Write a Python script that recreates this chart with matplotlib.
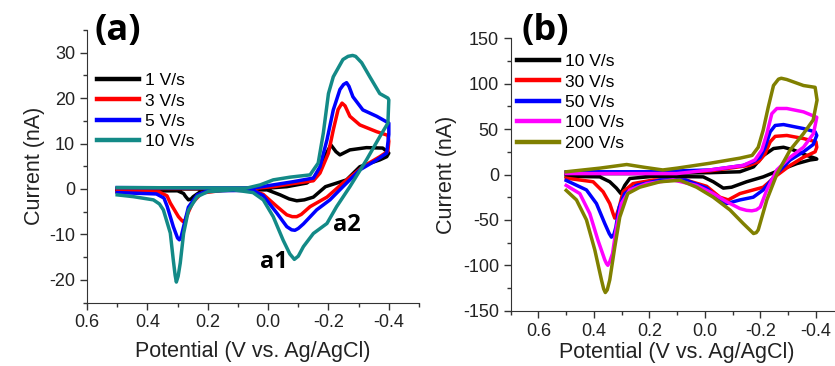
import matplotlib
matplotlib.use("Agg")
import matplotlib.pyplot as plt
from matplotlib.ticker import MultipleLocator

plt.rcParams['font.family'] = ['Liberation Sans', 'DejaVu Sans']

#### Panel (a) data: potential (V) and current (nA), one closed loop per scan rate ####
a_labels = ['1 V/s', '3 V/s', '5 V/s', '10 V/s']
a_colors = ['#000000', '#ff0000', '#0000ff', '#138a87']

a1_v = [0.5, 0.3, 0.28, 0.274, 0.264, 0.255, 0.248, 0.22, 0.05, 0.003, -0.04, -0.07, -0.095,
        -0.12, -0.15, -0.19, -0.26, -0.304, -0.37, -0.393, -0.4, -0.38, -0.326, -0.271,
        -0.238, -0.225, -0.208, -0.194, -0.178, -0.155, -0.128, -0.062, 0.0, 0.2, 0.5]
a1_i = [-0.5, -0.4, -1.0, -1.6, -2.4, -2.2, -1.7, -0.4, -0.2, -0.2, -1.3, -2.2, -2.6,
        -2.4, -1.8, 0.5, 2.0, 4.9, 6.4, 7.1, 7.9, 9.0, 9.1, 8.6,
        7.5, 8.2, 9.7, 7.9, 4.9, 2.6, 1.3, 0.5, 0.2, 0.0, 0.0]

a3_v = [0.5, 0.36, 0.335, 0.324, 0.297, 0.285, 0.281, 0.275, 0.27, 0.25, 0.22, 0.15, 0.05,
        0.016, -0.03, -0.062, -0.08, -0.095, -0.11, -0.139, -0.195, -0.248, -0.314, -0.37,
        -0.397, -0.4, -0.397, -0.36, -0.304, -0.271, -0.255, -0.245, -0.232, -0.216, -0.2,
        -0.172, -0.15, -0.083, -0.017, 0.05, 0.5]
a3_i = [-0.6, -0.7, -1.5, -3.1, -6.1, -7.0, -7.2, -6.9, -6.0, -3.0, -0.9, -0.3, -0.3,
        -1.2, -3.9, -5.7, -6.1, -6.1, -5.6, -3.9, -1.8, 1.3, 4.9, 7.1,
        8.3, 10.5, 11.8, 12.6, 14.1, 16.0, 18.3, 18.9, 17.5, 13.0, 7.9,
        3.5, 1.8, 1.2, 0.5, 0.1, 0.1]

a5_v = [0.5, 0.37, 0.345, 0.334, 0.314, 0.3, 0.294, 0.288, 0.28, 0.264, 0.235, 0.2, 0.05,
        0.016, -0.03, -0.062, -0.078, -0.089, -0.1, -0.117, -0.161, -0.205, -0.248, -0.304,
        -0.36, -0.393, -0.4, -0.4, -0.36, -0.314, -0.281, -0.268, -0.26, -0.25, -0.238,
        -0.216, -0.195, -0.172, -0.15, -0.083, -0.017, 0.05, 0.5]
a5_i = [-0.8, -1.1, -2.0, -3.9, -8.3, -10.8, -11.2, -10.5, -8.3, -4.0, -1.3, -0.4, -0.3,
        -1.5, -5.4, -8.3, -9.0, -9.1, -8.7, -7.7, -4.6, -2.4, 0.5, 4.2,
        6.4, 7.9, 12.0, 14.5, 16.0, 17.4, 20.3, 22.6, 23.4, 23.0, 21.9,
        17.4, 10.8, 4.9, 2.4, 1.6, 0.9, 0.2, 0.3]

a10_v = [0.5, 0.446, 0.38, 0.36, 0.347, 0.324, 0.314, 0.308, 0.304, 0.298, 0.291, 0.28, 0.264,
         0.235, 0.2, 0.115, 0.05, 0.016, -0.017, -0.05, -0.072, -0.087, -0.1, -0.117, -0.15,
         -0.195, -0.227, -0.271, -0.326, -0.37, -0.397, -0.4, -0.397, -0.37, -0.337, -0.31,
         -0.29, -0.28, -0.265, -0.248, -0.216, -0.2, -0.183, -0.166, -0.139, -0.073, -0.017,
         0.026, 0.07, 0.5]
a10_i = [-1.3, -1.7, -2.4, -3.3, -4.6, -9.7, -15.7, -19.0, -20.5, -19.2, -16.3, -9.8, -4.7,
         -1.7, -0.6, -0.2, -0.8, -2.4, -6.1, -11.3, -14.3, -15.5, -14.8, -12.7, -9.8,
         -7.6, -3.9, 0.5, 6.4, 11.5, 14.5, 19.6, 20.0, 21.0, 24.7, 27.8,
         29.2, 29.4, 29.2, 28.5, 24.7, 21.0, 12.3, 5.7, 3.1, 2.6, 2.0,
         0.9, 0.2, 0.3]

#### Panel (b) data ####
b_labels = ['10 V/s', '30 V/s', '50 V/s', '100 V/s', '200 V/s']
b_colors = ['#000000', '#ff0000', '#0000ff', '#ff00ff', '#808000']

b10_v = [0.5, 0.379, 0.343, 0.319, 0.303, 0.289, 0.271, 0.185, 0.006, -0.03, -0.066, -0.096,
         -0.15, -0.21, -0.271, -0.331, -0.379, -0.403, -0.4, -0.367, -0.319, -0.283, -0.247,
         -0.211, -0.175, -0.126, -0.018, 0.2, 0.5]
b10_i = [-2, -2.6, -8, -15, -21, -12, -4.4, -2, -2.6, -8, -15, -14,
         -8, -2.6, 5, 12, 16, 17, 17.6, 21, 27, 30, 28.6,
         21, 8.4, 3, 2, 1, 1]

b30_v = [0.5, 0.403, 0.367, 0.343, 0.33, 0.325, 0.318, 0.309, 0.295, 0.259, 0.185, 0.07,
         -0.006, -0.054, -0.084, -0.126, -0.174, -0.21, -0.259, -0.307, -0.355, -0.397,
         -0.403, -0.4, -0.355, -0.295, -0.253, -0.235, -0.217, -0.193, -0.16, -0.018, 0.2, 0.5]
b30_i = [-4, -8, -19, -32, -44, -48, -44, -36, -19, -10, -6, -6,
         -13, -25, -28, -21, -17, -14, -1, 10, 19, 25,
         30, 36, 39.6, 43, 42, 36, 23, 14, 10, 4, 2, 2]

b50_v = [0.5, 0.427, 0.391, 0.361, 0.345, 0.337, 0.328, 0.321, 0.309, 0.289, 0.247, 0.16,
         0.07, -0.006, -0.054, -0.078, -0.126, -0.174, -0.21, -0.259, -0.307, -0.355, -0.39,
         -0.403, -0.397, -0.355, -0.283, -0.253, -0.235, -0.217, -0.199, -0.174, -0.138,
         -0.018, 0.2, 0.5]
b50_i = [-6.5, -17, -32, -54, -65, -69, -66, -58, -36, -21, -12, -6,
         -6, -15, -28, -32, -28, -25, -17, 1, 16, 25, 33,
         43, 47, 50.6, 55, 54, 47, 30, 19, 14, 10,
         5, 3, 3]

b100_v = [0.5, 0.451, 0.415, 0.386, 0.361, 0.355, 0.35, 0.343, 0.333, 0.319, 0.301, 0.271,
          0.21, 0.115, 0.03, -0.03, -0.078, -0.126, -0.15, -0.169, -0.185, -0.199, -0.223,
          -0.259, -0.307, -0.355, -0.391, -0.403, -0.355, -0.295, -0.259, -0.241, -0.223,
          -0.205, -0.18, -0.138, -0.018, 0.102, 0.5]
b100_i = [-12, -21, -43, -72, -94, -98, -100, -96, -87, -58, -32, -17,
          -10, -6, -12, -21, -30, -37.5, -39.5, -40, -39, -36, -17,
          5, 19, 30, 45, 63, 69, 72.7, 72.7, 67, 45,
          27, 16, 10, 5, 1, 1]

b200_v = [0.5, 0.463, 0.427, 0.397, 0.373, 0.365, 0.359, 0.352, 0.343, 0.325, 0.307, 0.278,
          0.235, 0.162, 0.09, 0.03, -0.03, -0.09, -0.138, -0.165, -0.175, -0.185, -0.192,
          -0.223, -0.26, -0.307, -0.355, -0.39, -0.404, -0.397, -0.355, -0.295, -0.275,
          -0.265, -0.247, -0.228, -0.21, -0.192, -0.17, -0.126, -0.018, 0.101, 0.152, 0.22,
          0.282, 0.379, 0.5]
b200_i = [-17.5, -28, -50, -83, -116, -126, -130, -127, -116, -80, -47, -21,
          -14, -8, -6.3, -14, -25, -39, -54, -62, -65, -64, -61,
          -28, 1, 27, 45, 60, 82, 96, 98, 104.6, 106,
          105, 98, 74, 49, 30, 21, 18, 12.4, 7, 5, 8,
          11, 7, 3]

a_curves = [(a1_v, a1_i), (a3_v, a3_i), (a5_v, a5_i), (a10_v, a10_i)]
b_curves = [(b10_v, b10_i), (b30_v, b30_i), (b50_v, b50_i), (b100_v, b100_i), (b200_v, b200_i)]

#### Figure ####
fig = plt.figure(figsize=(8.35, 3.66), dpi=100)
ax1 = fig.add_axes([87 / 835, 1 - 302.5 / 366, 332 / 835, 272.5 / 366])
ax2 = fig.add_axes([510.7 / 835, 1 - 310.7 / 366, 333 / 835, 272.4 / 366])

for (v, i), lab, col in zip(a_curves, a_labels, a_colors):
    ax1.plot(v, i, color=col, lw=2.5, label=lab, solid_joinstyle='round')
for (v, i), lab, col in zip(b_curves, b_labels, b_colors):
    ax2.plot(v, i, color=col, lw=2.5, label=lab, solid_joinstyle='round')

ax1.set_xlim(0.6, -0.5)
ax1.set_ylim(-25, 35)
ax1.xaxis.set_minor_locator(MultipleLocator(0.1))
ax1.yaxis.set_minor_locator(MultipleLocator(5))
ax1.set_xticks([0.6, 0.4, 0.2, 0.0, -0.2, -0.4])
ax1.set_xticklabels(['0.6', '0.4', '0.2', '0.0', '-0.2', '-0.4'])
ax1.set_yticks([-20, -10, 0, 10, 20, 30])
ax1.set_yticklabels(['-20', '-10', '0', '10', '20', '30'])

ax2.set_xlim(0.7, -0.5)
ax2.set_ylim(-150, 150)
ax2.xaxis.set_minor_locator(MultipleLocator(0.1))
ax2.yaxis.set_minor_locator(MultipleLocator(25))
ax2.set_xticks([0.6, 0.4, 0.2, 0.0, -0.2, -0.4])
ax2.set_xticklabels(['0.6', '0.4', '0.2', '0.0', '-0.2', '-0.4'])
ax2.set_yticks([-150, -100, -50, 0, 50, 100, 150])
ax2.set_yticklabels(['-150', '-100', '-50', '0', '50', '100', '150'])

for ax in (ax1, ax2):
    ax.spines['top'].set_visible(False)
    ax.spines['right'].set_visible(False)
    ax.spines['left'].set_color('#333333')
    ax.spines['bottom'].set_color('#333333')
    ax.tick_params(which='major', direction='out', length=5, width=1, colors='#333333',
                   labelsize=13, labelcolor='#222222')
    ax.tick_params(which='minor', direction='out', length=3, width=1, colors='#333333')
ax1.set_xlabel('Potential (V vs. Ag/AgCl)', fontsize=15.5, color='#222222', labelpad=7)
ax2.set_xlabel('Potential (V vs. Ag/AgCl)', fontsize=15.5, color='#222222', labelpad=2)
ax1.set_ylabel('Current (nA)', fontsize=15.5, color='#222222', labelpad=3)
ax2.set_ylabel('Current (nA)', fontsize=15.5, color='#222222', labelpad=4)

leg1 = ax1.legend(loc='upper left', frameon=False, fontsize=12.5, handlelength=2.4,
                  handletextpad=0.35, labelspacing=0.3, borderpad=0, borderaxespad=0,
                  bbox_to_anchor=(97 / 835, 1 - 73 / 366), bbox_transform=fig.transFigure)
leg2 = ax2.legend(loc='upper left', frameon=False, fontsize=12.5, handlelength=2.4,
                  handletextpad=0.35, labelspacing=0.3, borderpad=0, borderaxespad=0,
                  bbox_to_anchor=(517 / 835, 1 - 54 / 366), bbox_transform=fig.transFigure)
for leg in (leg1, leg2):
    for line in leg.get_lines():
        line.set_linewidth(3.2)

bold_font = ['Open Sans', 'Liberation Sans', 'DejaVu Sans']
fig.text(118 / 835, 1 - 31 / 366, '(a)', fontsize=26, fontweight='bold',
         family=bold_font, ha='center', va='center')
fig.text(545 / 835, 1 - 31 / 366, '(b)', fontsize=26, fontweight='bold',
         family=bold_font, ha='center', va='center')
ax1.text(-0.02, -16.1, 'a1', fontsize=17, fontweight='bold',
         family=bold_font, ha='center', va='center')
ax1.text(-0.261, -8, 'a2', fontsize=17, fontweight='bold',
         family=bold_font, ha='center', va='center')

fig.savefig('out.png', dpi=100)
